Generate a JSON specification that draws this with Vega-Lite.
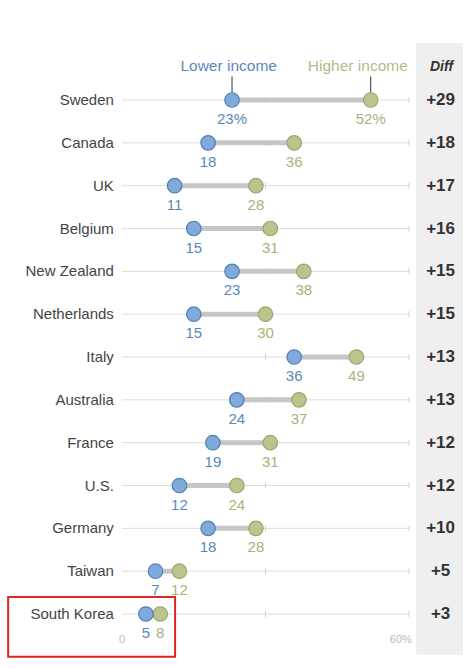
{
  "$schema": "https://vega.github.io/schema/vega-lite/v6.json",
  "width": 287,
  "height": 668,
  "autosize": "none",
  "padding": {"left": 122, "top": 0, "right": 66, "bottom": 0},
  "background": "white",
  "config": {
    "view": {"stroke": null},
    "font": "Liberation Sans",
    "text": {"font": "Liberation Sans"}
  },
  "datasets": {
    "rows": [
      {"row": 0, "country": "Sweden", "low": 23, "high": 52, "diff": "+29"},
      {"row": 1, "country": "Canada", "low": 18, "high": 36, "diff": "+18"},
      {"row": 2, "country": "UK", "low": 11, "high": 28, "diff": "+17"},
      {"row": 3, "country": "Belgium", "low": 15, "high": 31, "diff": "+16"},
      {"row": 4, "country": "New Zealand", "low": 23, "high": 38, "diff": "+15"},
      {"row": 5, "country": "Netherlands", "low": 15, "high": 30, "diff": "+15"},
      {"row": 6, "country": "Italy", "low": 36, "high": 49, "diff": "+13"},
      {"row": 7, "country": "Australia", "low": 24, "high": 37, "diff": "+13"},
      {"row": 8, "country": "France", "low": 19, "high": 31, "diff": "+12"},
      {"row": 9, "country": "U.S.", "low": 12, "high": 24, "diff": "+12"},
      {"row": 10, "country": "Germany", "low": 18, "high": 28, "diff": "+10"},
      {"row": 11, "country": "Taiwan", "low": 7, "high": 12, "diff": "+5"},
      {"row": 12, "country": "South Korea", "low": 5, "high": 8, "diff": "+3"}
    ]
  },
  "data": {"name": "rows"},
  "transform": [
    {"calculate": "datum.row == 0 ? datum.low + '%' : '' + datum.low", "as": "lowLabel"},
    {"calculate": "datum.row == 0 ? datum.high + '%' : '' + datum.high", "as": "highLabel"}
  ],
  "layer": [
    {
      "data": {"values": [{}]},
      "mark": {"type": "rect", "color": "#efefef"},
      "encoding": {
        "x": {"datum": 61.5, "type": "quantitative", "scale": {"domain": [0, 60], "nice": false, "zero": false}, "axis": null},
        "x2": {"datum": 71.3},
        "y": {"datum": -1.33, "type": "quantitative", "scale": {"domain": [-2.335, 13.26], "reverse": true, "nice": false, "zero": false}, "axis": null},
        "y2": {"datum": 12.95}
      }
    },
    {
      "mark": {"type": "rule", "color": "#dcdcdc", "strokeWidth": 1},
      "encoding": {
        "x": {"datum": 0, "type": "quantitative"},
        "x2": {"datum": 60},
        "y": {"field": "row", "type": "quantitative"}
      }
    },
    {
      "mark": {"type": "rule", "color": "#d0d0d0", "strokeWidth": 1, "yOffset": -3, "y2Offset": 3},
      "encoding": {
        "x": {"datum": 30, "type": "quantitative"},
        "y": {"field": "row", "type": "quantitative"},
        "y2": {"field": "row"}
      }
    },
    {
      "mark": {"type": "rule", "color": "#d0d0d0", "strokeWidth": 1, "yOffset": -3, "y2Offset": 3},
      "encoding": {
        "x": {"datum": 60, "type": "quantitative"},
        "y": {"field": "row", "type": "quantitative"},
        "y2": {"field": "row"}
      }
    },
    {
      "mark": {"type": "rule", "color": "#c6c6c6", "strokeWidth": 5},
      "encoding": {
        "x": {"field": "low", "type": "quantitative"},
        "x2": {"field": "high"},
        "y": {"field": "row", "type": "quantitative"}
      }
    },
    {
      "data": {"values": [{"x": 23}, {"x": 52}]},
      "mark": {"type": "rule", "color": "#333333", "strokeWidth": 1},
      "encoding": {
        "x": {"field": "x", "type": "quantitative"},
        "y": {"datum": -0.55, "type": "quantitative"},
        "y2": {"datum": -0.17}
      }
    },
    {
      "mark": {"type": "circle", "size": 210, "opacity": 1, "color": "#bcc48e", "stroke": "#9ca66c", "strokeWidth": 1.2},
      "encoding": {
        "x": {"field": "high", "type": "quantitative"},
        "y": {"field": "row", "type": "quantitative"}
      }
    },
    {
      "mark": {"type": "circle", "size": 210, "opacity": 1, "color": "#80aada", "stroke": "#4f7fb5", "strokeWidth": 1.2},
      "encoding": {
        "x": {"field": "low", "type": "quantitative"},
        "y": {"field": "row", "type": "quantitative"}
      }
    },
    {
      "mark": {"type": "text", "fontSize": 15, "dy": 19, "color": "#5b88bb"},
      "encoding": {
        "x": {"field": "low", "type": "quantitative"},
        "y": {"field": "row", "type": "quantitative"},
        "text": {"field": "lowLabel"}
      }
    },
    {
      "mark": {"type": "text", "fontSize": 15, "dy": 19, "color": "#a9b27a"},
      "encoding": {
        "x": {"field": "high", "type": "quantitative"},
        "y": {"field": "row", "type": "quantitative"},
        "text": {"field": "highLabel"}
      }
    },
    {
      "mark": {"type": "text", "fontSize": 15, "align": "right", "color": "#444444"},
      "encoding": {
        "x": {"datum": -1.7, "type": "quantitative"},
        "y": {"field": "row", "type": "quantitative"},
        "text": {"field": "country"}
      }
    },
    {
      "mark": {"type": "text", "fontSize": 17, "fontWeight": "bold", "align": "center", "color": "#333333"},
      "encoding": {
        "x": {"datum": 66.6, "type": "quantitative"},
        "y": {"field": "row", "type": "quantitative"},
        "text": {"field": "diff"}
      }
    },
    {
      "data": {"values": [{"label": "Lower income"}]},
      "mark": {"type": "text", "fontSize": 15.5, "color": "#5b88bb"},
      "encoding": {
        "x": {"datum": 22.3, "type": "quantitative"},
        "y": {"datum": -0.8, "type": "quantitative"},
        "text": {"field": "label"}
      }
    },
    {
      "data": {"values": [{"label": "Higher income"}]},
      "mark": {"type": "text", "fontSize": 15.5, "color": "#b3bb86"},
      "encoding": {
        "x": {"datum": 49.3, "type": "quantitative"},
        "y": {"datum": -0.8, "type": "quantitative"},
        "text": {"field": "label"}
      }
    },
    {
      "data": {"values": [{"label": "Diff"}]},
      "mark": {"type": "text", "fontSize": 14, "fontWeight": "bold", "fontStyle": "italic", "color": "#333333"},
      "encoding": {
        "x": {"datum": 66.8, "type": "quantitative"},
        "y": {"datum": -0.78, "type": "quantitative"},
        "text": {"field": "label"}
      }
    },
    {
      "data": {"values": [{"label": "0", "x": 0}, {"label": "60%", "x": 58.3}]},
      "mark": {"type": "text", "fontSize": 11, "color": "#bbbbbb"},
      "encoding": {
        "x": {"field": "x", "type": "quantitative"},
        "y": {"datum": 12.61, "type": "quantitative"},
        "text": {"field": "label"}
      }
    },
    {
      "data": {"values": [{}]},
      "mark": {"type": "rect", "filled": false, "stroke": "#e0241f", "strokeWidth": 2},
      "encoding": {
        "x": {"datum": -23.8, "type": "quantitative"},
        "x2": {"datum": 11.1},
        "y": {"datum": 11.6, "type": "quantitative"},
        "y2": {"datum": 13.0}
      }
    }
  ]
}
